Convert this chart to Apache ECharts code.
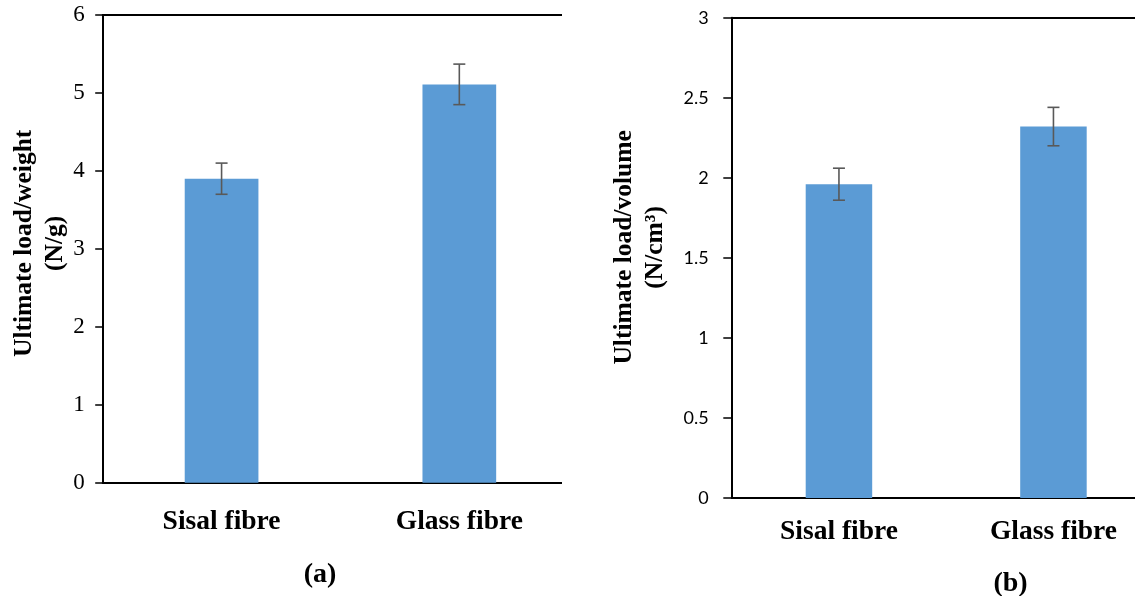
<!DOCTYPE html>
<html>
<head>
<meta charset="utf-8">
<script src="https://cdn.jsdelivr.net/npm/echarts@6/dist/echarts.min.js"></script>
<style>
  html, body { margin: 0; padding: 0; background: #fff; }
  #wrap { position: relative; width: 1135px; height: 596px; overflow: hidden; background: #fff; }
  #chartA { position: absolute; left: 0; top: 0; width: 562px; height: 596px; }
  #chartB { position: absolute; left: 562px; top: 0; width: 573px; height: 596px; }
</style>
</head>
<body>
<div id="wrap"><div id="chartA"></div><div id="chartB"></div></div>
<script>
// ---- data ----
const categories = ['Sisal fibre', 'Glass fibre'];
const weightValues = [3.9, 5.11];      // Ultimate load/weight (N/g)
const weightErrors = [0.2, 0.26];
const volumeValues = [1.96, 2.32];     // Ultimate load/volume (N/cm3)
const volumeErrors = [0.1, 0.12];
const weightTicks = [0, 1, 2, 3, 4, 5, 6];
const volumeTicks = [0, 0.5, 1, 1.5, 2, 2.5, 3];
const panelLabels = ['(a)', '(b)'];
const yTitles = ['Ultimate load/weight\n(N/g)', 'Ultimate load/volume\n(N/cm³)'];

const BAR_COLOR = '#5B9BD5';
const ERR_COLOR = '#595959';
const SERIF = "'Liberation Serif', 'Times New Roman', serif";
const SANS = "Lato, 'Liberation Sans', sans-serif";

function errorSeries(values, errors) {
  return {
    type: 'custom',
    z: 10,
    data: values.map((v, i) => [i, v, errors[i]]),
    encode: { x: 0, y: 1 },
    renderItem: function (params, api) {
      const x = api.value(0), v = api.value(1), e = api.value(2);
      const top = api.coord([x, v + e]);
      const bot = api.coord([x, v - e]);
      const half = 6;
      const st = { stroke: ERR_COLOR, lineWidth: 1.6 };
      return {
        type: 'group',
        children: [
          { type: 'line', shape: { x1: top[0], y1: top[1], x2: bot[0], y2: bot[1] }, style: st },
          { type: 'line', shape: { x1: top[0] - half, y1: top[1], x2: top[0] + half, y2: top[1] }, style: st },
          { type: 'line', shape: { x1: bot[0] - half, y1: bot[1], x2: bot[0] + half, y2: bot[1] }, style: st }
        ]
      };
    }
  };
}

function makeOption(cfg) {
  const ticks = cfg.ticks;
  return {
    animation: false,
    backgroundColor: '#fff',
    title: {
      text: cfg.panel,
      left: cfg.panelX, top: cfg.panelY,
      textAlign: 'center',
      textStyle: { fontFamily: SERIF, fontWeight: 'bold', fontSize: 28, color: '#000' }
    },
    grid: {
      left: cfg.gridLeft, top: cfg.gridTop, width: cfg.gridWidth, height: cfg.gridHeight,
      containLabel: false, outerBoundsMode: 'none'
    },
    xAxis: [
      {
        type: 'category', data: categories, position: 'bottom',
        axisLine: { show: true, lineStyle: { color: '#000', width: 2 } },
        axisTick: { show: false },
        axisLabel: { margin: cfg.xLabelMargin, fontFamily: SERIF, fontWeight: 'bold', fontSize: 27.5, color: '#000' }
      },
      {
        type: 'category', data: categories, position: 'top',
        axisLine: { show: true, lineStyle: { color: '#000', width: 2 } },
        axisTick: { show: false }, axisLabel: { show: false }
      }
    ],
    yAxis: {
      type: 'value',
      min: ticks[0], max: ticks[ticks.length - 1], interval: ticks[1] - ticks[0],
      axisLine: { show: true, lineStyle: { color: '#000', width: 2 } },
      axisTick: { show: true, length: cfg.tickLen, lineStyle: { color: '#000', width: 1.5 } },
      splitLine: { show: false },
      axisLabel: { margin: cfg.yLabelMargin, fontFamily: cfg.tickFont, fontSize: cfg.tickSize, color: '#000' },
      name: cfg.yTitle,
      nameLocation: 'middle',
      nameRotate: 90,
      nameGap: cfg.nameGap,
      nameMoveOverlap: false,
      nameTextStyle: {
        fontFamily: SERIF, fontWeight: 'bold', fontSize: 25.5, color: '#000', lineHeight: 31,
        padding: [0, 0, 0, cfg.namePad]
      }
    },
    series: [
      {
        type: 'bar', data: cfg.values, barWidth: '31%',
        itemStyle: { color: BAR_COLOR }
      },
      errorSeries(cfg.values, cfg.errors)
    ]
  };
}

const chartA = echarts.init(document.getElementById('chartA'), null, { renderer: 'canvas' });
chartA.setOption(makeOption({
  panel: panelLabels[0], panelX: 315, panelY: 556,
  gridLeft: 102.7, gridTop: 15, gridWidth: 475.5, gridHeight: 467.7,
  xLabelMargin: 25, yLabelMargin: 18, tickLen: 7.5,
  tickFont: SERIF, tickSize: 23,
  ticks: weightTicks, values: weightValues, errors: weightErrors,
  yTitle: yTitles[0], nameGap: 32, namePad: 11
}));

const chartB = echarts.init(document.getElementById('chartB'), null, { renderer: 'canvas' });
chartB.setOption(makeOption({
  panel: panelLabels[1], panelX: 443.5, panelY: 565,
  gridLeft: 169.7, gridTop: 17.7, gridWidth: 429, gridHeight: 480.3,
  xLabelMargin: 20, yLabelMargin: 23, tickLen: 8.4,
  tickFont: SANS, tickSize: 18,
  ticks: volumeTicks, values: volumeValues, errors: volumeErrors,
  yTitle: yTitles[1], nameGap: 61, namePad: 21
}));
</script>
</body>
</html>
